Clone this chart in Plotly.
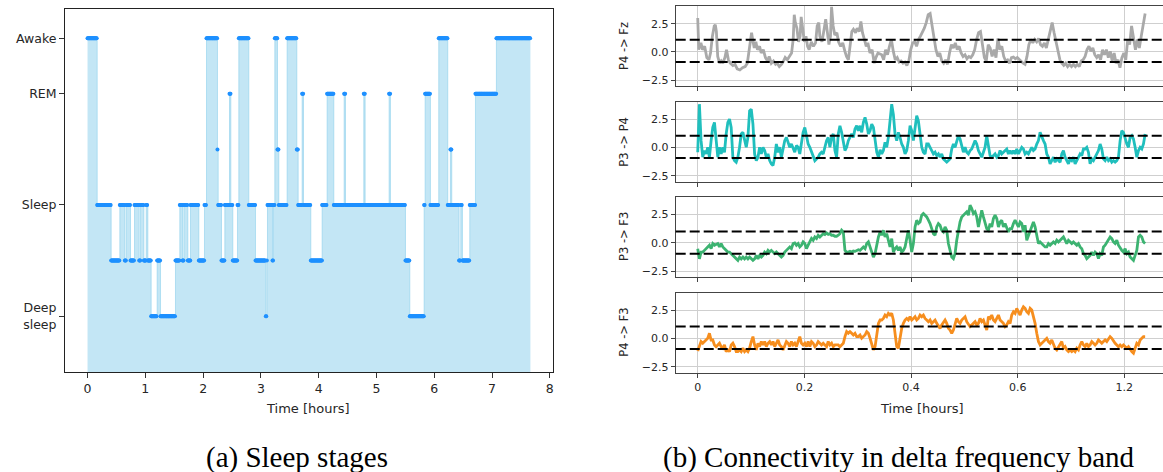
import numpy as np
import plotly.graph_objects as go

# ---------------- (a) Sleep stages ----------------
stage_start_h = [0.000, 0.167, 0.409, 0.559, 0.646, 0.669, 0.744, 0.813, 0.894, 0.917,
                 0.975, 1.015, 1.044, 1.101, 1.205, 1.263, 1.522, 1.597, 1.644, 1.667,
                 1.736, 1.782, 1.926, 2.024, 2.059, 2.249, 2.261, 2.318, 2.376, 2.457,
                 2.480, 2.514, 2.595, 2.618, 2.791, 2.907, 3.085, 3.103, 3.114, 3.201,
                 3.218, 3.241, 3.287, 3.310, 3.454, 3.622, 3.645, 3.714, 3.737, 3.864,
                 4.060, 4.146, 4.262, 4.441, 4.464, 4.781, 4.804, 5.219, 5.242, 5.502,
                 5.577, 5.825, 5.842, 5.934, 6.078, 6.234, 6.280, 6.303, 6.430, 6.459,
                 6.488, 6.615, 6.713, 7.076]
stage_code = [5, 2, 1, 2, 1, 2, 1, 2, 1, 2,
              1, 2, 1, 0, 1, 0, 1, 2, 1, 2,
              1, 2, 1, 2, 5, 3, 2, 1, 2, 4,
              2, 1, 2, 5, 2, 1, 0, 1, 2, 1,
              2, 5, 3, 2, 5, 3, 2, 4, 2, 1,
              2, 4, 2, 4, 2, 4, 2, 4, 2, 1,
              0, 2, 4, 2, 5, 2, 3, 2, 1, 2,
              1, 2, 4, 5]
record_end_h = 7.664
epoch_h = 1.0 / 120.0
stage_tickvals = [0, 2, 4, 5]
stage_ticktext = ["Deep<br>sleep", "Sleep", "REM", "Awake"]
hours_ticks = [0, 1, 2, 3, 4, 5, 6, 7, 8]

# ---------------- (b) Connectivity, delta band ----------------
gray_a = [3.0, 0.2, 0.8, 0.2, 0.5, -0.5, -0.7, -0.1, 1.4, 2.3,
          2.4, 1.8, -0.4, -1.0, -0.8, -1.0, -0.5, 0.2, -0.7, -1.0,
          -1.2, -1.1, -1.5, -1.6, -1.4, -1.3, -1.0, 0.2, 1.7, 1.1,
          0.35, 0.9, 0.2, 0.5, -0.1, 0.2, -0.5, -0.8, -0.4, -1.0,
          -0.8, -1.1, -1.0, -1.3, -1.1, -0.8, -0.5, -0.7, -0.4, -0.1,
          1.1, 3.3, 2.6, 2.1, 0.9, 1.4, 3.1, 2.0, 0.9, 1.4,
          0.5, 0.2, 0.9, 0.5, 0.8, 2.3, 2.6, 1.4, 0.9, 2.0,
          2.9, 1.8, 0.65, 1.4, 4.0, 2.3, 1.5, 1.7, 0.9, 0.5,
          0.8, 0.05, -0.4, -0.7, 0.5, 1.8, 2.0, 1.7, 2.1, 1.8,
          2.7, 1.7, 1.2, 0.5, 0.8, -0.1, 0.2, -1.0, -0.5, -0.1]
gray_a_x = [0, .002, .006, .009, .013, .017, .021, .024, .0275, .031,
            .033, .035, .0375, .041, .044, .047, .051, .054, .0575, .061,
            .066, .07, .074, .079, .084, .089, .093, .097, .101, .103,
            .106, .109, .112, .116, .119, .123, .127, .131, .134, .138,
            .142, .146, .149, .153, .157, .161, .164, .168, .172, .176,
            .179, .181, .183, .186, .189, .192, .194, .197, .2, .203,
            .206, .209, .213, .217, .221, .224, .227, .229, .233, .237,
            .24, .243, .246, .249, .251, .254, .257, .261, .264, .268,
            .272, .276, .279, .2825, .286, .289, .292, .296, .299, .303,
            .306, .309, .312, .316, .319, .323, .327, .331, .334, .338]
gray_b = [-0.25, -0.7, 0.2, -0.25, 0.5, 1.1, 0.05, -0.7, -0.5, -0.9,
          -0.8, -1.0, -0.9, -1.2, -0.8, 0.2, 0.8, 0.9, 0.5, 1.1,
          1.4, 1.7, 2.1, 2.6, 3.3, 3.4, 2.4, 1.4, 0.2, -0.4,
          -0.1, -0.8, -1.0, -0.7, -1.1, -0.1, 0.65, 0.35, 0.8, 0.2,
          0.5, -0.1, -0.4, -0.25, -0.6, -0.4, -0.5, -0.25, 0.2, 1.1,
          1.7, 1.8, 0.8, -0.5, -0.8, 0.65, 0.35, -0.4, 0.2, -0.5,
          1.2, 0.2, 0.5, -0.4, -0.8, -0.7, -1.0, -0.5, -0.45, -0.6,
          -0.5, -0.7, -0.8, -1.0, -1.1, -0.4, 0.65, 1.1, 0.8, 1.1,
          0.9, 1.2, 0.65, 0.5, 0.8, 0.35, 1.1, 2.0, 2.6, 1.7,
          0.8, 0.2, -0.7, -1.0, -1.2, -1.0, -1.3, -1.1, -1.3, -1.1,
          -1.3, -1.1, -1.3, -0.8, -0.7, -0.4, 0.2, 0.5, 0.05, 0.35,
          -0.25, -0.5, -0.25, -0.7, 0.2, -0.25, 0.2, -0.5, 0.05, -0.8,
          -0.1, -1.0, -0.7, -1.4, -0.5, -0.1, -0.7, 1.1, 0.65, 2.3,
          1.4, 0.2, 1.1, 0.35, 1.4, 2.6, 3.4]

teal_a = [-0.41, 3.85, 0.62, -0.85, -0.26, -0.56, 0.03, -0.85, 0.62, 1.79,
          2.24, 0.32, -0.85, 0.03, -0.56, 0.03, -0.41, 1.21, 2.24, 2.53,
          1.79, -0.85, -1.15, -1.29, -0.85, 0.03, 1.21, 1.35, 0.62, 0.03,
          0.91, 3.26, 3.41, 2.09, -0.56, -1.15, -0.85, 0.03, -0.56, 0.03,
          -0.26, -0.85, -0.56, -1.15, -1.44, -1.59, -0.85, 0.32, -0.41, 0.03,
          -0.85, -0.12, 0.62, 0.91, 0.47, 0.03, 0.32, -0.12, -0.41, 0.18,
          0.03, -0.56, 0.62, 1.35, 1.79, 0.91, 0.32, 0.03, -0.41, -0.85,
          -1.15, -1.0, -0.85, -0.56, -0.41, -0.56, 0.03, 0.62, 0.91, 0.03,
          0.91, 1.21, -0.26, -0.85, 1.21, 1.94, 1.35, 0.62, -0.26, 0.03,
          0.62, 0.91, 1.21, 0.91, 1.65, 1.94, 1.5, 1.94, 1.35, 2.24,
          2.68, 2.09, 1.21, 1.5, 2.09, 1.79, 0.76, -0.41, -0.85, -0.2]
teal_b = [-0.56, -0.26, 0.47, 0.03, 0.91, 2.53, 3.85, 2.94, 1.21, 0.62,
          1.35, 0.91, 0.32, 0.03, -0.56, -0.26, 0.62, 1.94, 1.5, 0.62,
          1.79, 2.82, 2.38, 0.91, 0.03, -0.41, -0.56, 0.32, 0.32, 0.03,
          -0.26, -0.56, -0.41, -0.71, -0.56, -0.85, -0.56, -1.0, -1.15, -1.29,
          -1.15, -1.0, -0.12, 0.32, 0.03, 0.47, 1.06, 0.76, 0.03, -0.41,
          0.03, -0.41, -0.56, -0.26, -0.12, 0.32, 0.62, 0.32, -0.26, -0.56,
          -0.85, -0.41, 0.03, 1.06, 0.32, -0.71, -0.85, -0.71, -0.56, -0.85,
          -0.71, -0.26, -0.56, -0.41, -0.26, -0.12, -0.56, -0.26, -0.56, -0.26,
          -0.56, -0.12, -0.56, -0.26, 0.03, -0.12, -0.56, -0.41, -0.56, -0.26,
          0.03, -0.26, -0.12, 0.32, 0.62, 1.35, 0.91, 0.62, 0.32, -0.56,
          -0.85, -1.44, -1.15, -0.85, -1.29, -1.0, -1.15, -1.29, -0.56, -0.26,
          -0.85, -1.15, -1.44, -1.0, -1.15, -0.85, -1.44, -1.15, -0.85, -0.56,
          -0.71, -0.12, -0.12, 0.03, -0.41, -1.44, -1.0, -1.15, -0.85, -0.56,
          -0.26, 0.32, -0.12, -1.0, -1.15, -0.85, -1.15, -1.0, -1.29, -1.15,
          -1.29, -1.15, -0.85, 0.62, 1.5, 1.35, 0.76, 0.32, 0.03, 0.91,
          1.06, 0.76, 0.03, -0.85, -0.26, 0.03, -0.12, 0.32, 1.21]

green_a = [-0.5, -1.4, -0.8, -0.8, -0.65, -0.5, -0.35, -0.2, -0.5, -0.05,
           -0.2, -0.1, -0.05, -0.35, -0.05, -0.35, -0.5, -0.65, -0.8, -0.8,
           -0.95, -1.1, -1.25, -1.4, -1.53, -1.24, -1.4, -1.24, -1.4, -1.24,
           -1.4, -1.24, -1.4, -1.53, -1.4, -1.1, -1.4, -1.1, -1.24, -1.1,
           -0.8, -0.94, -0.65, -0.8, -0.65, -0.8, -0.94, -0.8, -0.94, -1.1,
           -1.24, -1.1, -0.8, -0.65, -0.5, -0.35, -0.5, -0.05, 0.0, -0.2,
           -0.05, -0.35, -0.2, 0.1, -0.05, -0.5, -0.2, 0.1, 0.4, 0.24,
           0.53, 0.4, 0.68, 0.53, 0.68, 0.82, 0.74, 0.88, 0.76, 0.82,
           0.68, 0.68, 0.59, 0.59, 0.68, 0.82, 1.12, 0.97, -0.65, -0.8,
           -0.8, -0.74, -0.8, -0.71, -0.74, -0.65, -0.59, -0.65, -0.5, -0.35,
           -0.5, -0.05, 0.1, -0.35, -0.8, -1.24, -0.94, -0.05, 0.53, 0.97]
green_b = [0.68, 1.12, 0.53, 0.82, 0.24, -0.35, 0.38, -0.8, -0.5, -0.35,
           -0.65, -0.35, -0.8, -0.65, -0.35, 0.53, 1.12, 0.24, -0.8, -0.05,
           1.41, 2.0, 1.71, 1.85, 2.44, 2.59, 2.44, 2.29, 2.0, 1.71,
           1.26, 0.82, 0.68, 1.41, 1.71, 1.56, 1.12, 0.97, 1.41, 1.12,
           -0.05, -0.8, -1.24, -1.38, -0.94, 0.24, 1.26, 1.85, 2.29, 2.44,
           2.59, 2.74, 2.44, 3.32, 3.03, 2.59, 2.74, 2.29, 1.41, 2.15,
           2.88, 2.29, 1.85, 1.26, 1.12, 1.71, 1.41, 2.15, 2.44, 2.15,
           1.41, 1.85, 2.0, 1.41, 1.71, 1.26, 0.97, 1.26, 1.26, 1.71,
           2.0, 1.71, 1.41, 1.85, 1.71, 0.97, 1.56, 0.24, 0.68, 1.12,
           1.56, 1.85, 1.41, 0.53, -0.05, 0.09, -0.05, -0.2, -0.35, -0.35,
           -0.05, -0.2, -0.05, 0.09, -0.05, 0.24, 0.09, 0.24, 0.38, 0.53,
           0.24, -0.05, 0.24, 0.09, -0.05, 0.09, -0.05, -0.2, -0.05, -0.35,
           -0.5, -0.94, -1.09, -1.38, -1.24, -1.09, -0.8, -1.09, -0.8, -0.94,
           -1.38, -0.94, -1.09, -0.35, -0.2, 0.09, 0.38, 0.53, 0.38, 0.09,
           -0.05, 0.24, -0.2, -0.5, -0.65, -0.8, -0.5, -0.94, -0.8, -1.24,
           -1.38, -1.53, -1.09, -0.65, 0.53, 0.68, 0.53, 0.09, -0.05]

orange_a = [-1.1, -0.56, -0.26, -0.41, -0.26, -0.12, 0.03, 0.47, -0.12, -0.12,
            -0.56, -0.71, -0.56, -0.41, -0.71, -0.85, -0.56, -1.15, -1.0, -1.15,
            -0.56, -0.41, -0.71, -1.15, -1.15, -1.0, -1.15, -0.85, -1.15, -1.0,
            -1.15, -0.85, -0.26, 0.18, -0.56, -1.0, -0.41, -0.71, -0.26, -0.56,
            -0.26, -0.71, -0.41, -0.26, -0.56, -0.26, -0.71, -0.41, -0.12, -0.56,
            -0.71, -1.0, -0.56, -0.26, -0.41, -0.71, -0.26, -0.56, -0.41, -0.71,
            -0.26, 0.18, -0.41, -0.56, -0.41, -0.71, -0.26, -0.71, -0.26, -0.41,
            -0.71, -0.56, -0.26, -0.41, -0.56, -0.41, -0.56, -0.71, -0.26, -0.56,
            -0.41, -0.71, -0.56, -0.56, -0.56, -0.71, -0.56, -0.41, 0.18, 0.62,
            0.47, 0.62, 0.47, 0.32, 0.47, 0.18, 0.18, 0.32, 0.03, 0.18,
            0.32, 0.62, 0.47, 0.03, -0.41, -1.0, -0.71, 0.47, 1.35, 1.65]
orange_b = [1.65, 1.79, 2.09, 1.94, 2.24, 2.09, 2.24, 1.65, 0.18, -0.71,
            -0.85, 0.18, 0.91, 1.35, 1.65, 1.79, 1.65, 1.94, 1.65, 1.79,
            1.94, 1.65, 1.79, 2.09, 1.94, 2.09, 1.79, 1.65, 1.5, 1.65,
            1.35, 1.5, 1.65, 1.35, 1.06, 0.91, 1.21, 1.5, 1.65, 1.35,
            0.91, 0.76, 0.47, 0.76, 1.35, 1.79, 1.5, 1.35, 1.65, 1.79,
            1.94, 1.5, 1.21, 1.06, 1.21, 1.35, 1.5, 1.21, 1.35, 1.79,
            1.5, 1.65, 1.21, 0.76, 1.94, 1.79, 2.09, 1.65, 1.5, 1.79,
            2.09, 1.65, 1.5, 1.35, 1.06, 1.21, 1.5, 1.35, 2.09, 2.38,
            2.24, 2.68, 2.38, 2.09, 2.53, 2.82, 2.68, 2.38, 2.24, 2.68,
            2.53, 1.94, 1.35, 0.47, -0.26, -0.56, -0.41, -0.26, -0.12, 0.03,
            -0.26, -0.41, -0.12, -0.56, -0.85, -1.0, -0.71, -0.41, -0.26, -0.85,
            -0.71, -1.0, -1.15, -1.0, -1.15, -1.0, -1.15, -0.85, -1.0, -0.56,
            -0.26, -0.56, -0.71, -0.41, -0.71, -0.56, -0.26, -0.41, -0.56, -0.41,
            -0.12, -0.26, -0.41, -0.26, -0.12, -0.26, 0.03, 0.18, 0.03, -0.26,
            -0.41, -0.56, -0.71, -0.56, -0.71, -0.56, -0.71, -0.85, -0.71, -1.0,
            -1.15, -1.29, -0.85, -0.41, -0.56, -0.12, 0.03, 0.18, 0.18]

conn_labels = ["P4 -> Fz", "P3 -> P4", "P3 -> F3", "P4 -> F3"]
conn_colors = ["#a9a9a9", "#20bfbd", "#3cb371", "#f68e1e"]
thr_upper = [1.08, 1.06, 1.00, 1.08]
thr_lower = [-0.90, -0.91, -0.95, -0.92]
conn_tickvals = [0, 0.2, 0.4, 0.6, 0.8]
conn_ticktext = ["0", "0.2", "0.4", "0.6", "1.2"]
split_x = [0.342, 0.345]
end_x = 0.839

# ---------------- build figure ----------------
fig = go.Figure()

# left: fill under the hypnogram
ends = stage_start_h[1:] + [record_end_h]
fig.add_trace(go.Scatter(x=[0, record_end_h], y=[-1.3, -1.3], mode="lines",
                         line=dict(width=0, color="rgba(0,0,0,0)"),
                         hoverinfo="skip", xaxis="x", yaxis="y"))
fig.add_trace(go.Scatter(x=stage_start_h + [record_end_h],
                         y=stage_code + [stage_code[-1]],
                         mode="lines", line_shape="hv",
                         line=dict(width=1, color="rgba(135,206,235,0.55)"),
                         fill="tonexty", fillcolor="rgba(135,206,235,0.5)",
                         xaxis="x", yaxis="y"))
mx, my = [], []
for s, e, c in zip(stage_start_h, ends, stage_code):
    n = max(1, int(round((e - s) / epoch_h)))
    for k in range(n):
        mx.append(s + k * epoch_h)
        my.append(c)
fig.add_trace(go.Scatter(x=mx, y=my, mode="markers",
                         marker=dict(size=4, color="#1e90ff", line=dict(width=0)),
                         xaxis="x", yaxis="y"))

# right: connectivity traces
series_a = [gray_a, teal_a, green_a, orange_a]
series_b = [gray_b, teal_b, green_b, orange_b]
for i in range(4):
    if i == 0:
        xa = list(gray_a_x)
    else:
        xa = list(np.linspace(0.0, split_x[0], len(series_a[i])))
    xb = list(np.linspace(split_x[1], end_x, len(series_b[i])))
    n = i + 2
    fig.add_trace(go.Scatter(x=xa + xb, y=series_a[i] + series_b[i], mode="lines",
                             line=dict(width=2.8, color=conn_colors[i]),
                             xaxis=f"x{n}", yaxis=f"y{n}"))

H = 472.0
W = 1163.0
tickfont_l = dict(family="DejaVu Sans", size=12.5, color="#262626")
tickfont_r = dict(family="DejaVu Sans", size=11, color="#262626")

layout = dict(
    width=1163, height=472, margin=dict(l=0, r=0, t=0, b=0),
    paper_bgcolor="white", plot_bgcolor="white", showlegend=False,
    font=dict(family="DejaVu Sans", color="#262626"),
    xaxis=dict(domain=[65 / W, 552.7 / W], range=[-0.39, 8.05], tickvals=hours_ticks,
               ticks="outside", ticklen=5, tickcolor="#333", showline=True, mirror=True,
               linecolor="#222", linewidth=1, showgrid=False, zeroline=False,
               tickfont=tickfont_l, anchor="y"),
    yaxis=dict(domain=[1 - 372.3 / H, 1 - 9.3 / H], range=[-1.01, 5.52],
               tickvals=stage_tickvals, ticktext=stage_ticktext,
               ticks="outside", ticklen=5, tickcolor="#333", showline=True, mirror=True,
               linecolor="#222", linewidth=1, showgrid=False, zeroline=False,
               tickfont=tickfont_l, anchor="x"),
)

panel_px = [(6, 86), (101.7, 181.7), (196.7, 277.3), (292.7, 372.7)]
shapes = []
annotations = []
for i in range(4):
    n = i + 2
    top, bot = panel_px[i]
    layout[f"xaxis{n}"] = dict(domain=[675.7 / W, 1.0], range=[-0.0413, 0.8725],
                               tickvals=conn_tickvals, ticktext=conn_ticktext,
                               showticklabels=(i == 3), ticks="outside", ticklen=4,
                               tickcolor="#444", showline=True, mirror=True,
                               linecolor="#444", linewidth=1, showgrid=True,
                               gridcolor="#cfcfcf", gridwidth=1, zeroline=False,
                               tickfont=tickfont_r, anchor=f"y{n}")
    layout[f"yaxis{n}"] = dict(domain=[1 - bot / H, 1 - top / H], range=[-3.02, 4.07],
                               tickvals=[-2.5, 0, 2.5], tickformat=".1f",
                               ticks="outside", ticklen=4, tickcolor="#444",
                               showline=True, mirror=False, linecolor="#444", linewidth=1,
                               showgrid=True, gridcolor="#cfcfcf", gridwidth=1,
                               zeroline=False, tickfont=tickfont_r, anchor=f"x{n}")
    for thr in (thr_upper[i], thr_lower[i]):
        shapes.append(dict(type="line", xref=f"x{n} domain", yref=f"y{n}",
                           x0=0, x1=1, y0=thr, y1=thr,
                           line=dict(color="black", width=2, dash="10px,4px")))
    annotations.append(dict(text=conn_labels[i], xref="paper", yref="paper",
                            x=624 / W, y=1 - (top + bot) / 2 / H, textangle=-90,
                            showarrow=False, xanchor="center", yanchor="middle",
                            font=dict(family="DejaVu Sans", size=11.5, color="#262626")))

annotations += [
    dict(text="Time [hours]", xref="paper", yref="paper", x=308 / W, y=1 - 408 / H,
         showarrow=False, xanchor="center", yanchor="middle",
         font=dict(family="DejaVu Sans", size=13, color="#262626")),
    dict(text="Time [hours]", xref="paper", yref="paper", x=921.5 / W, y=1 - 408 / H,
         showarrow=False, xanchor="center", yanchor="middle",
         font=dict(family="DejaVu Sans", size=13, color="#262626")),
    dict(text="(a) Sleep stages", xref="paper", yref="paper", x=297 / W, y=1 - 457 / H,
         showarrow=False, xanchor="center", yanchor="middle",
         font=dict(family="Liberation Serif", size=29, color="black")),
    dict(text="(b) Connectivity in delta frequency band", xref="paper", yref="paper",
         x=899 / W, y=1 - 457 / H, showarrow=False, xanchor="center", yanchor="middle",
         font=dict(family="Liberation Serif", size=29, color="black")),
]
layout["shapes"] = shapes
layout["annotations"] = annotations
fig.update_layout(**layout)
fig.write_html("out.html")
